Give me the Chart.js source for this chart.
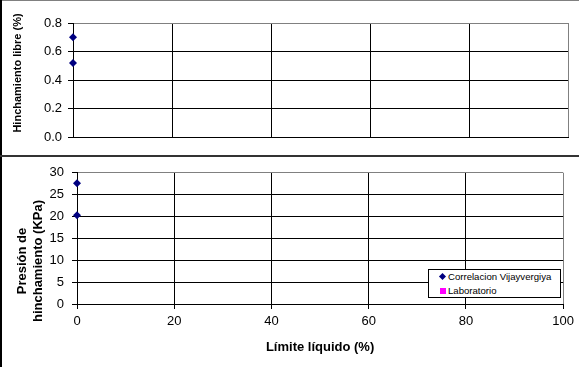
<!DOCTYPE html>
<html>
<head>
<meta charset="utf-8">
<script src="https://cdn.jsdelivr.net/npm/chart.js@4.4.1/dist/chart.umd.min.js"></script>
<style>
html,body{margin:0;padding:0;background:#fff;}
#wrap{position:relative;width:579px;height:367px;overflow:hidden;background:#fff;font-family:"Liberation Sans",Arial,sans-serif;}
#c1{position:absolute;left:0;top:0;}
#c2{position:absolute;left:0;top:157px;}
.bl{position:absolute;left:0;top:0;width:2px;height:367px;background:#000;}
.bt{position:absolute;left:0;top:0;width:579px;height:1px;background:#808080;}
.sep{position:absolute;left:0;top:155px;width:579px;height:2px;background:#333;}
#legend{position:absolute;left:428px;top:269px;width:131px;height:27px;border:1px solid #000;background:#fff;font-size:9.6px;color:#000;}
#legend .row{position:relative;height:14px;line-height:14px;}
#legend .mk{position:absolute;left:11px;top:4px;width:6px;height:6px;}
#legend .mk.rot{transform:rotate(45deg);width:5px;height:5px;left:11px;top:4px;}
#legend .tx{position:absolute;left:19px;top:0;white-space:nowrap;}
</style>
</head>
<body>
<div id="wrap">
  <canvas id="c1" width="579" height="155"></canvas>
  <canvas id="c2" width="579" height="210"></canvas>
  <div class="bt"></div>
  <div class="bl"></div>
  <div class="sep"></div>
  <div id="legend"></div>
</div>
<script>
// ---- data ----
const liquidLimitVij = [0, 0];
const freeSwellVij = [0.70, 0.52];
const swellPressureVij = [27.6, 20.3];
const liquidLimitLab = [];
const freeSwellLab = [];
const swellPressureLab = [];
const seriesNames = ['Correlacion Vijayvergiya', 'Laboratorio'];
const seriesColors = ['#000080', '#FF00FF'];
const seriesShapes = ['rectRot', 'rect'];
const xTicks = [0, 20, 40, 60, 80, 100];
const freeSwellTicks = [0, 0.2, 0.4, 0.6, 0.8];
const pressureTicks = [0, 5, 10, 15, 20, 25, 30];
const xTitle = 'Límite líquido (%)';
const yTitleTop = ['Hinchamiento libre (%)'];
const yTitleBottom = ['Presión de', 'hinchamiento (KPa)'];

Chart.defaults.font.family = "'Liberation Sans', Arial, sans-serif";
Chart.defaults.font.size = 13;
Chart.defaults.color = '#000';

function pts(xs, ys) { return xs.map((x, i) => ({x: x, y: ys[i]})); }
function ds(i, data) {
  return {
    label: seriesNames[i], data: data,
    pointStyle: seriesShapes[i], pointRadius: 4, pointHoverRadius: 4,
    backgroundColor: seriesColors[i], borderColor: seriesColors[i], borderWidth: 0,
    showLine: false, clip: false
  };
}
function gridColor(max) {
  return c => (c.tick && Math.abs(c.tick.value - max) < 1e-9) ? '#808080' : '#000';
}
const yTitlePlugin = {
  id: 'yTitle',
  afterDraw(chart, args, opts) {
    const ctx = chart.ctx;
    const t = chart.scales.y.options.title;
    ctx.save();
    ctx.translate(opts.x, opts.y);
    ctx.rotate(-Math.PI / 2);
    ctx.font = 'bold ' + opts.size + "px 'Liberation Sans', Arial, sans-serif";
    ctx.fillStyle = '#000';
    ctx.textAlign = 'center';
    ctx.textBaseline = 'middle';
    t.text.forEach((line, i) => ctx.fillText(line, 0, i * opts.gap));
    ctx.restore();
  }
};

new Chart(document.getElementById('c1'), {
  type: 'scatter',
  data: { datasets: [ds(0, pts(liquidLimitVij, freeSwellVij)), ds(1, pts(liquidLimitLab, freeSwellLab))] },
  plugins: [yTitlePlugin],
  options: {
    responsive: false, animation: false, events: [],
    layout: { padding: { left: 0, right: 11, top: 23, bottom: 0 } },
    plugins: { legend: { display: false }, tooltip: { enabled: false },
      yTitle: { x: 18, y: 73, size: 11, gap: 13 } },
    scales: {
      x: { type: 'linear', min: 0, max: 100,
        afterBuildTicks: s => { s.ticks = xTicks.map(v => ({value: v})); },
        afterFit: s => { s.height = 18; },
        ticks: { display: false },
        grid: { color: gridColor(100), lineWidth: 1, drawTicks: false },
        border: { color: '#000', width: 1 } },
      y: { type: 'linear', min: 0, max: 0.8,
        afterBuildTicks: s => { s.ticks = freeSwellTicks.map(v => ({value: v})); },
        afterFit: s => { s.width = 73; },
        title: { display: false, text: yTitleTop },
        ticks: { padding: 6, callback: v => Number(v).toFixed(1), font: { size: 13 } },
        grid: { color: gridColor(0.8), lineWidth: 1, tickLength: 5, tickColor: '#000' },
        border: { color: '#000', width: 1 } }
    }
  }
});

new Chart(document.getElementById('c2'), {
  type: 'scatter',
  data: { datasets: [ds(0, pts(liquidLimitVij, swellPressureVij)), ds(1, pts(liquidLimitLab, swellPressureLab))] },
  plugins: [yTitlePlugin],
  options: {
    responsive: false, animation: false, events: [],
    layout: { padding: { left: 0, right: 14, top: 15, bottom: 0 } },
    plugins: { legend: { display: false }, tooltip: { enabled: false },
      yTitle: { x: 22, y: 104, size: 13, gap: 16 } },
    scales: {
      x: { type: 'linear', min: 0, max: 100,
        afterBuildTicks: s => { s.ticks = xTicks.map(v => ({value: v})); },
        afterFit: s => { s.height = 63; },
        title: { display: true, text: xTitle, font: { size: 13, weight: 'bold' }, padding: { top: 0, bottom: 12 } },
        ticks: { padding: 5, maxRotation: 0, font: { size: 13 } },
        grid: { color: gridColor(100), lineWidth: 1, tickLength: 5, tickColor: '#000' },
        border: { color: '#000', width: 1 } },
      y: { type: 'linear', min: 0, max: 30,
        afterBuildTicks: s => { s.ticks = pressureTicks.map(v => ({value: v})); },
        afterFit: s => { s.width = 77; },
        title: { display: false, text: yTitleBottom },
        ticks: { padding: 8, font: { size: 13 } },
        grid: { color: gridColor(30), lineWidth: 1, tickLength: 5, tickColor: '#000' },
        border: { color: '#000', width: 1 } }
    }
  }
});

// legend (inside bottom plot)
const lg = document.getElementById('legend');
seriesNames.forEach((name, i) => {
  const row = document.createElement('div');
  row.className = 'row';
  const mk = document.createElement('span');
  mk.className = 'mk' + (seriesShapes[i] === 'rectRot' ? ' rot' : '');
  mk.style.background = seriesColors[i];
  const tx = document.createElement('span');
  tx.className = 'tx';
  tx.textContent = name;
  row.appendChild(mk); row.appendChild(tx);
  lg.appendChild(row);
});
</script>
</body>
</html>
